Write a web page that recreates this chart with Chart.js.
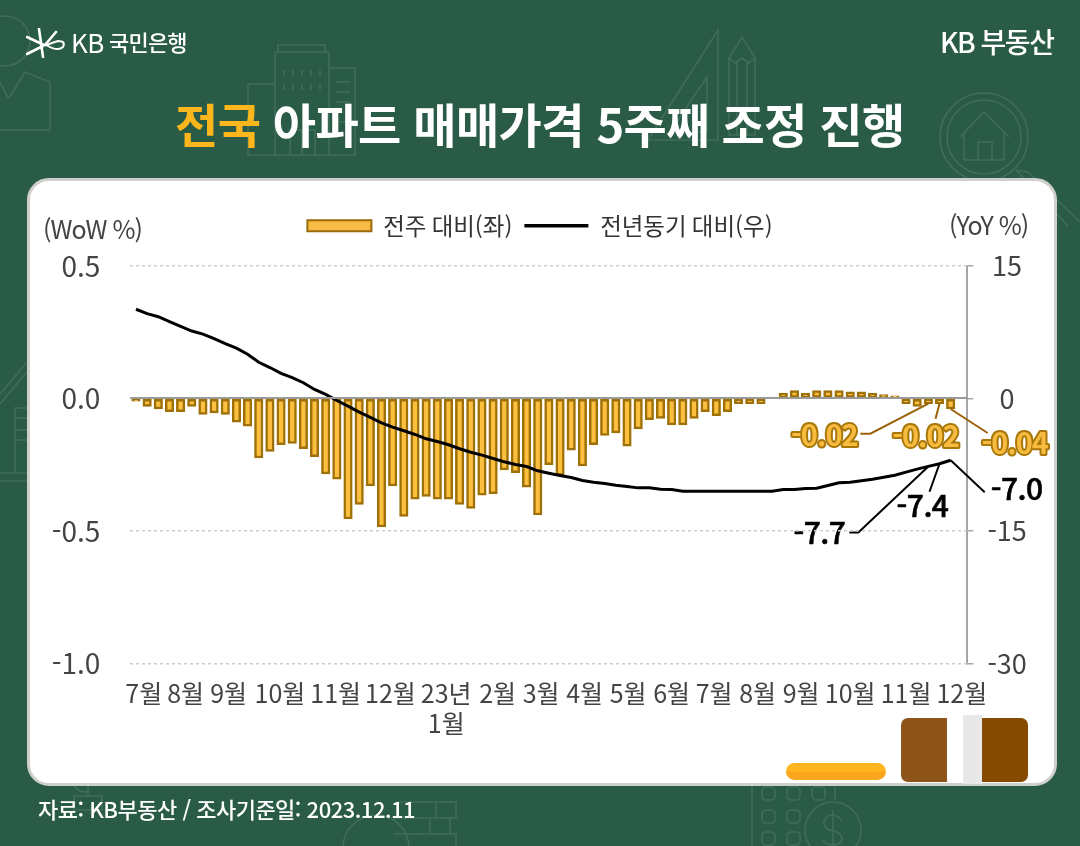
<!DOCTYPE html>
<html lang="ko">
<head>
<meta charset="utf-8">
<title>전국 아파트 매매가격</title>
<script src="https://cdn.jsdelivr.net/npm/chart.js@4"></script>
<style>
  html, body { margin: 0; padding: 0; }
  body { width: 1080px; height: 846px; position: relative; overflow: hidden; background: #295B46; font-family: "Noto Sans CJK KR", "Noto Sans", sans-serif; }
  #bg, #chart, .card, .txt, .blk { position: absolute; }
  #bg { left: 0; top: 0; }
  .card { left: 27px; top: 178px; width: 1024px; height: 602px; background: #fff; border: 3px solid #cfcfcd; border-radius: 22px; }
  #chart { left: 0; top: 0; }
  .txt { white-space: nowrap; line-height: 1; }
  .title { left: 175px; top: 99px; font-size: 47px; font-weight: 700; color: #fff; letter-spacing: -0.6px; }
  .title b { color: #FDB71C; font-weight: 700; }
  .axis-unit { font-size: 25px; color: #444; letter-spacing: -1px; }
  .blk { border-radius: 7px; }
</style>
</head>
<body>
<svg id="bg" width="1080" height="846" fill="none" stroke="#3F6E5A" stroke-width="1.6">
  <!-- 사람 -->
  <circle cx="5" cy="41" r="25"/>
  <path d="M0 82 L7 96 Q9 99 11 95 L25 72 L50 82 V130 H0"/>
  <!-- 건물 -->
  <path d="M278 52 V45 H325 V52 M275 155 V52 H329 V155 M275 84 H248 V155 H355 V68 H329"/>
  <path d="M284 70 V76 M293 70 V76 M302 70 V76 M311 70 V76 M320 70 V76 M284 84 V90 M293 84 V90 M302 84 V90 M311 84 V90 M320 84 V90 M336 82 H350 M336 92 H350 M336 102 H350 M336 112 H350 M336 122 H350"/>
  <path d="M290 155 V130 H315 V155 M302 130 V155"/>
  <!-- 삼각자, 연필 -->
  <path d="M718 30 L648 140 H718 Z M707 77 L670 132 H707 Z"/>
  <path d="M729 135 V58 L742 37 L755 58 V135 Z M729 58 L735 63 L742 58 L749 63 L755 58 M737 62 V135 M747 62 V135"/>
  <!-- 돋보기 -->
  <circle cx="984" cy="137" r="44"/>
  <circle cx="984" cy="137" r="37"/>
  <path d="M960 137 L984 112 L1009 137 M964 133 V160 H1004 V133 M978 160 V142 H992 V160"/>
  <path d="M1016 170 L1028 172 L1080 222 M1016 170 L1068 226"/>
  <!-- 왼쪽 집 -->
  <path d="M0 404 L27 372 M0 394 L27 362 M15 442 V408 H27 M15 430 H27 M15 418 H27 M15 473 V440 H27 M0 473 H27 M0 481 H27"/>
  <!-- 아래쪽 아이콘 -->
  <path d="M75 786 Q76 792 88 792 V790 M74 796 H102 V810 H74 Z M88 786 V796"/>
  <path d="M752 786 V846 M835 786 V800"/>
  <rect x="762" y="787" width="13" height="13" rx="4"/><rect x="787" y="787" width="13" height="13" rx="4"/><rect x="812" y="787" width="13" height="13" rx="4"/>
  <rect x="762" y="810" width="13" height="13" rx="4"/><rect x="787" y="810" width="13" height="13" rx="4"/>
  <rect x="762" y="832" width="13" height="13" rx="4"/><rect x="787" y="832" width="13" height="13" rx="4"/>
  <circle cx="833" cy="830" r="28"/>
  <path d="M842 821 Q838 815 832 815 Q824 816 824 823 Q824 829 833 831 Q842 833 842 839 Q841 845 833 845 Q826 845 823 840 M833 810 V850"/>
  <circle cx="376" cy="848" r="33"/>
  <path d="M395 802 H456 V818 H395 M394 818 H450 V834 H394 M394 834 H456 V846 M436 802 V818 M430 818 V834"/>
</svg>

<div class="card"></div>

<!-- 오른쪽 아래 가림 블록 -->
<div class="blk" style="left:786px;top:763px;width:100px;height:17px;border-radius:9px;background:linear-gradient(#FFB51D 0 52%,#FBA61F 52%);"></div>
<div class="blk" style="left:901px;top:718px;width:46px;height:64px;background:#8D5419;border-radius:7px 0 0 7px;"></div>
<div class="blk" style="left:963px;top:715px;width:19px;height:69px;background:#E8E8E8;border-radius:0;"></div>
<div class="blk" style="left:982px;top:718px;width:46px;height:64px;background:#854A00;border-radius:0 7px 7px 0;"></div>

<canvas id="chart" width="1080" height="846"></canvas>

<svg style="position:absolute;left:26px;top:28px" width="42" height="30" fill="none" stroke="#fff" stroke-linecap="round">
  <path d="M1 9 L18 17 M1 26 L17 18 M13 1 L17 29 M19 17 L30 4" stroke-width="2.6"/>
  <path d="M20 17 Q32 24 37 19 Q40 13 32 13 Q25 15 21 17" stroke-width="2"/>
</svg>
<div class="txt" style="left:71px;top:29px;font-size:26px;font-weight:400;color:#fff;letter-spacing:-0.5px;">KB</div>
<div class="txt" style="left:109px;top:30px;font-size:22px;font-weight:500;color:#fff;letter-spacing:-0.8px;">국민은행</div>
<div class="txt" style="left:940px;top:27px;font-size:28px;font-weight:500;color:#fff;letter-spacing:-1.5px;">KB 부동산</div>
<div class="txt title"><b>전국</b> 아파트 매매가격 5주째 조정 진행</div>
<div class="txt axis-unit" style="left:43px;top:216px;">(WoW %)</div>
<div class="txt axis-unit" style="left:949px;top:212px;">(YoY %)</div>
<div class="txt" style="left:38px;top:797px;font-size:22px;font-weight:500;color:#fff;letter-spacing:-0.5px;">자료: KB부동산 / 조사기준일: 2023.12.11</div>

<script>
// 주간 전주 대비 (%) : 마지막 칸은 비어 있음
const barValues = [
    -0.01, -0.03, -0.04, -0.05, -0.05, -0.03, -0.06, -0.055, -0.06, -0.09,
    -0.105, -0.225, -0.2, -0.175, -0.17, -0.19, -0.22, -0.285, -0.305, -0.455,
    -0.4, -0.33, -0.485, -0.33, -0.445, -0.38, -0.37, -0.38, -0.38, -0.4,
    -0.415, -0.365, -0.36, -0.27, -0.28, -0.335, -0.44, -0.25, -0.29, -0.195,
    -0.255, -0.175, -0.14, -0.13, -0.18, -0.115, -0.08, -0.075, -0.1, -0.1,
    -0.075, -0.05, -0.065, -0.05, -0.02, -0.02, -0.02, 0.005, 0.02, 0.03,
    0.02, 0.03, 0.03, 0.03, 0.025, 0.025, 0.02, 0.015, 0.01, -0.02,
    -0.03, -0.02, -0.02, -0.04, null
];

// 전년동기 대비 (%)
const lineValues = [
    10.1, 9.6, 9.26, 8.7, 8.16, 7.63, 7.29, 6.77, 6.2, 5.7,
    5.0, 4.1, 3.5, 2.83, 2.35, 1.78, 1.02, 0.45, -0.23, -0.87,
    -1.55, -2.15, -2.76, -3.25, -3.66, -4.08, -4.57, -4.88, -5.25, -5.7,
    -6.09, -6.42, -6.8, -7.18, -7.48, -7.71, -8.2, -8.47, -8.73, -8.95,
    -9.3, -9.49, -9.64, -9.83, -9.98, -10.13, -10.13, -10.28, -10.32, -10.5,
    -10.5, -10.5, -10.5, -10.5, -10.5, -10.5, -10.5, -10.5, -10.32, -10.32,
    -10.2, -10.16, -9.86, -9.56, -9.49, -9.33, -9.15, -8.92, -8.7, -8.35,
    -8.01, -7.7, -7.4, -7.0, null
];

const weekLabels = barValues.map((_, i) => String(i));

// x축 월 라벨과 그 위치(주 번호)
const monthLabels = ['7월', '8월', '9월', '10월', '11월', '12월', ['23년', '1월'], '2월', '3월', '4월', '5월', '6월', '7월', '8월', '9월', '10월', '11월', '12월'];
const monthWeeks = [0.7, 4.45, 8.3, 12.9, 17.9, 22.8, 27.8, 32.4, 36.3, 40.2, 44.1, 48, 51.8, 55.7, 59.6, 64, 69, 74];

const leftTicks = [0.5, 0, -0.5, -1];
const rightTicks = [15, 0, -15, -30];

// 콜아웃 (주 번호, 표시값)
const barNoteWeeks = [71, 72, 73];
const barNoteTexts = ['-0.02', '-0.02', '-0.04'];
const lineNoteWeeks = [71, 72, 73];
const lineNoteTexts = ['-7.7', '-7.4', '-7.0'];

const FONT = '"Noto Sans CJK KR", "Noto Sans", sans-serif';

// 콜아웃 지시선 꺾임점 / 글자 위치 (데이터 점 기준 픽셀 거리)
const barNoteShape = [
    { path: [[-58, 30], [-68, 30]], text: [-104, 31] },
    { path: [[-4, 15]], text: [-14, 32] },
    { path: [[37, 24]], text: [64, 34] }
];
const lineNoteShape = [
    { path: [[-70, 66], [-79, 66]], text: [-109, 66] },
    { path: [[-10, 28]], text: [-17, 42] },
    { path: [[34, 32]], text: [66, 28] }
];

const calloutPlugin = {
    id: 'callouts',
    afterDatasetsDraw(chart) {
        const { ctx, scales } = chart;
        const draw = (week, value, yScale, shape, text, lineColor, paint) => {
            const x0 = scales.x.getPixelForValue(week);
            const y0 = yScale.getPixelForValue(value);
            ctx.save();
            ctx.strokeStyle = lineColor;
            ctx.lineWidth = 2;
            ctx.beginPath();
            ctx.moveTo(x0, y0);
            shape.path.forEach(p => ctx.lineTo(x0 + p[0], y0 + p[1]));
            ctx.stroke();
            ctx.textAlign = 'center';
            ctx.textBaseline = 'middle';
            paint(text, x0 + shape.text[0], y0 + shape.text[1]);
            ctx.restore();
        };

        barNoteWeeks.forEach((week, i) => {
            draw(week, barValues[week], scales.y, barNoteShape[i], barNoteTexts[i], '#9A6208', (t, x, y) => {
                ctx.font = '700 29px ' + FONT;
                ctx.letterSpacing = '-1px';
                ctx.lineJoin = 'round';
                ctx.lineWidth = 4;
                ctx.strokeStyle = '#A87708';
                ctx.strokeText(t, x, y);
                ctx.fillStyle = '#F7BB40';
                ctx.fillText(t, x, y);
            });
        });

        lineNoteWeeks.forEach((week, i) => {
            draw(week, lineValues[week], scales.yR, lineNoteShape[i], lineNoteTexts[i], '#000', (t, x, y) => {
                ctx.font = '500 30px ' + FONT;
                ctx.letterSpacing = '-0.5px';
                ctx.lineWidth = 0.6;
                ctx.strokeStyle = '#000';
                ctx.strokeText(t, x, y);
                ctx.fillStyle = '#000';
                ctx.fillText(t, x, y);
            });
        });
    }
};

// 범례 아래 여백 추가
const legendGapPlugin = {
    id: 'legendGap',
    beforeInit(chart) {
        const fit = chart.legend.fit;
        chart.legend.fit = function () {
            fit.call(this);
            this.height += 18.5;
        };
    }
};

new Chart(document.getElementById('chart'), {
    data: {
        labels: weekLabels,
        datasets: [
            {
                type: 'line',
                label: '전년동기 대비(우)',
                data: lineValues,
                yAxisID: 'yR',
                borderColor: '#000',
                backgroundColor: '#000',
                borderWidth: 3,
                pointRadius: 0,
                tension: 0,
                order: 0
            },
            {
                type: 'bar',
                label: '전주 대비(좌)',
                data: barValues,
                yAxisID: 'y',
                backgroundColor: '#FDBF3E',
                borderColor: '#9E7008',
                borderWidth: 2.5,
                borderSkipped: false,
                barThickness: 8.5,
                order: 1
            }
        ]
    },
    options: {
        responsive: false,
        animation: false,
        devicePixelRatio: 1,
        layout: { padding: { left: 30, right: 30, top: 202, bottom: 30 } },
        plugins: {
            tooltip: { enabled: false },
            legend: {
                position: 'top',
                labels: {
                    usePointStyle: true,
                    pointStyleWidth: 64,
                    boxHeight: 11,
                    padding: 12,
                    color: '#333',
                    font: { family: FONT, size: 23.5 },
                    sort: (a, b) => b.datasetIndex - a.datasetIndex,
                    generateLabels(chart) {
                        const items = Chart.defaults.plugins.legend.labels.generateLabels(chart);
                        items.forEach(it => {
                            const isBar = it.datasetIndex === 1;
                            it.pointStyle = isBar ? 'rect' : 'line';
                            it.lineWidth = isBar ? 2 : 3.5;
                            it.fillStyle = isBar ? '#F7BC45' : '#000';
                            it.strokeStyle = isBar ? '#9A6A0B' : '#000';
                        });
                        return items;
                    }
                }
            }
        },
        scales: {
            x: {
                type: 'category',
                display: false
            },
            xMonths: {
                type: 'linear',
                position: 'bottom',
                min: -0.5,
                max: 74.5,
                grid: { display: false },
                border: { display: false },
                afterBuildTicks(axis) {
                    axis.ticks = monthWeeks.map(v => ({ value: v }));
                },
                afterFit(axis) { axis.height = 152.7; },
                ticks: {
                    autoSkip: false,
                    maxRotation: 0,
                    minRotation: 0,
                    padding: 7,
                    color: '#444',
                    font: { family: FONT, size: 25, lineHeight: 1.2 },
                    callback: (v, i) => monthLabels[i]
                }
            },
            y: {
                position: 'left',
                min: -1,
                max: 0.5,
                afterBuildTicks(axis) {
                    axis.ticks = leftTicks.map(v => ({ value: v }));
                },
                afterFit(axis) { axis.width = 100.4; },
                border: {
                    display: false,
                    dash: ctx => ctx.tick && ctx.tick.value === 0 ? [] : [3, 3]
                },
                grid: {
                    z: 1,
                    drawTicks: false,
                    color: ctx => ctx.tick && ctx.tick.value === 0 ? '#9a9a9a' : '#cccccc',
                    lineWidth: ctx => ctx.tick && ctx.tick.value === 0 ? 2 : 1.5
                },
                ticks: {
                    padding: 30,
                    color: '#444',
                    font: { family: FONT, size: 28 },
                    callback: v => v.toFixed(1)
                }
            },
            yR: {
                position: 'right',
                min: -30,
                max: 15,
                afterBuildTicks(axis) {
                    axis.ticks = rightTicks.map(v => ({ value: v }));
                },
                afterFit(axis) { axis.width = 82.6; },
                border: { display: true, color: '#a6a6a6', width: 2 },
                grid: {
                    drawOnChartArea: false,
                    tickLength: 6,
                    color: '#a6a6a6',
                    lineWidth: 1.5
                },
                ticks: {
                    padding: 14,
                    crossAlign: 'center',
                    color: '#444',
                    font: { family: FONT, size: 27 },
                    callback: v => String(v)
                }
            }
        }
    },
    plugins: [legendGapPlugin, calloutPlugin]
});
</script>
</body>
</html>
